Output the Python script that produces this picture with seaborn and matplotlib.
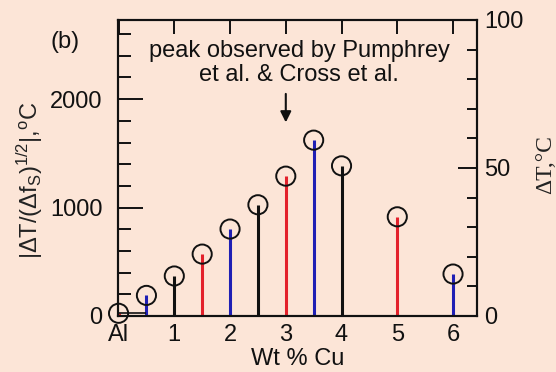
import matplotlib
matplotlib.use("Agg")
import matplotlib.pyplot as plt
import seaborn as sns
import pandas as pd

# data
wt_cu = [0.0, 0.5, 1.0, 1.5, 2.0, 2.5, 3.0, 3.5, 4.0, 5.0, 6.0]
values = [25, 190, 369, 571, 802, 1026, 1290, 1622, 1385, 915, 387]
stem_colors = ["red", "blue", "black", "red", "blue", "black", "red", "blue", "black", "red", "blue"]
x_ticks = [0, 1, 2, 3, 4, 5, 6]
x_ticklabels = ["Al", "1", "2", "3", "4", "5", "6"]
left_ticks = [0, 1000, 2000]
right_ticks = [0, 50, 100]

palette = {"red": "#e3212b", "blue": "#1f1fb4", "black": "#111111"}
bg = "#fce5d7"
FS = 17

sns.set_theme(style="ticks")
plt.rcParams["font.family"] = ["Liberation Sans", "DejaVu Sans"]
plt.rcParams["mathtext.fontset"] = "custom"
plt.rcParams["mathtext.rm"] = "Liberation Sans"
plt.rcParams["mathtext.it"] = "Liberation Sans:italic"
plt.rcParams["mathtext.sf"] = "Liberation Sans"

df = pd.DataFrame({"x": wt_cu, "y": values, "c": stem_colors})

fig = plt.figure(figsize=(5.56, 3.72), dpi=100, facecolor=bg)
ax = fig.add_axes([118 / 556, 1 - 316 / 372, (477 - 118) / 556, (316 - 20) / 372])
ax.set_facecolor(bg)

for c in ["red", "blue", "black"]:
    sub = df[df["c"] == c]
    ax.vlines(sub["x"], 0, sub["y"], colors=palette[c], lw=2.2, zorder=2)
ax.hlines(values[0], wt_cu[0], wt_cu[1], colors="#111111", lw=1.2, zorder=2)

sns.scatterplot(data=df, x="x", y="y", ax=ax, marker="o", s=190,
                facecolor="none", edgecolor="#111111", linewidth=1.4, zorder=3,
                legend=False, clip_on=False)

ax.set_xlim(-0.01, 6.43)
ax.set_ylim(0, 2730)

# x axis
ax.set_xticks(x_ticks)
ax.set_xticklabels(x_ticklabels)
ax.tick_params(axis="x", which="both", direction="in", bottom=False, top=True,
               length=10, width=1.4, color="#111111", labelsize=FS, pad=6, labelcolor="#111111")
ax.set_xlabel("Wt % Cu", fontsize=FS, color="#111111", labelpad=1)

# left y axis
ax.set_yticks(left_ticks)
ax.set_yticks(range(0, 2800, 200), minor=True)
ax.tick_params(axis="y", which="major", direction="in", length=18, width=1.4,
               color="#111111", labelsize=FS, pad=11, labelcolor="#111111")
ax.tick_params(axis="y", which="minor", direction="in", length=9.5, width=1.4, color="#111111")
ax.set_ylabel(r"$|\Delta$T/($\Delta$f$_{\rm S})^{1/2}|$,$^{\rm o}$C", fontsize=FS,
              color="#222222")
ax.yaxis.set_label_coords(-0.203, 0.46)

for s in ax.spines.values():
    s.set_linewidth(1.5)
    s.set_color("#111111")

# right y axis
ax2 = ax.twinx()
ax2.set_ylim(0, 100)
ax2.set_yticks(right_ticks)
ax2.set_yticks(range(0, 101, 10), minor=True)
ax2.tick_params(axis="y", which="major", direction="in", length=14, width=1.4,
                color="#111111", labelsize=FS, pad=5, labelcolor="#111111")
ax2.tick_params(axis="y", which="minor", direction="in", length=7.5, width=1.4, color="#111111")
for s in ax2.spines.values():
    s.set_linewidth(1.5)
    s.set_color("#111111")
fig.text(546 / 556, 1 - 165 / 372, "ΔT,°C", rotation=90, ha="center", va="center",
         fontsize=FS, family=["Liberation Serif", "DejaVu Serif"], color="#222222")

# annotations
fig.text(65 / 556, 1 - 42 / 372, "(b)", ha="center", va="center", fontsize=FS, color="#111111")
fig.text(299 / 556, 1 - 63 / 372, "peak observed by Pumphrey\net al. & Cross et al.",
         ha="center", va="center", fontsize=FS, linespacing=1.1, color="#111111")
ax.annotate("", xy=(3, 1760), xytext=(3, 2074),
            arrowprops=dict(arrowstyle="-|>", color="#111111", lw=1.5, mutation_scale=16))

fig.savefig("out.png", dpi=100, facecolor=bg)
